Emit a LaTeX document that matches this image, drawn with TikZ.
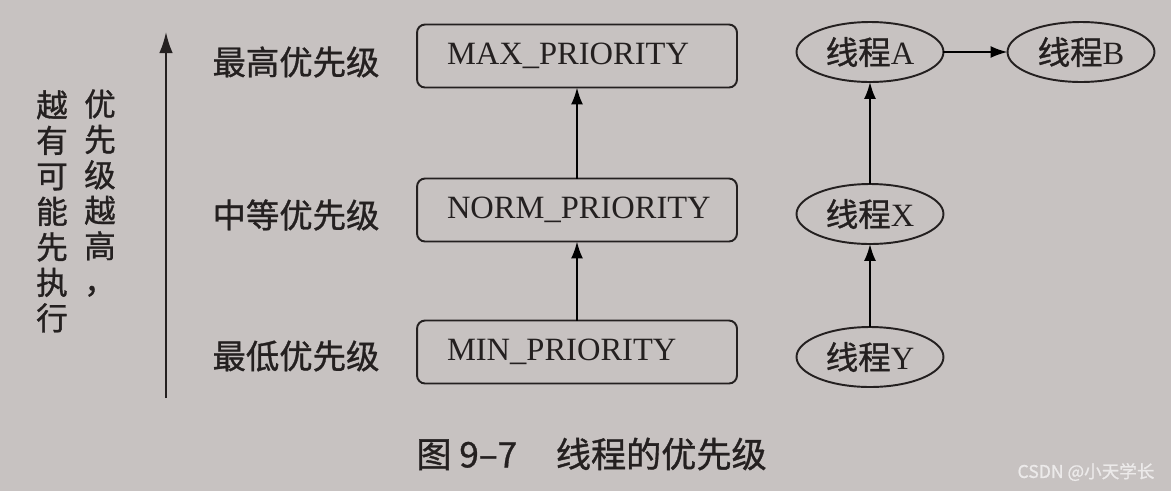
\documentclass[tikz,border=0pt]{standalone}
\usepackage{fontspec}
\setmainfont{Liberation Serif}
\newfontfamily\cjk{Noto Sans CJK SC}[FakeBold=1]
\usepackage{tkz-graph}
\usetikzlibrary{arrows.meta}
\usetikzlibrary{shapes}
\definecolor{paper}{RGB}{199,194,193}
\definecolor{ink}{RGB}{36,32,32}
\definecolor{markgray}{RGB}{236,234,234}

\begin{document}
\begin{tikzpicture}[x = 0.02cm, y = -0.02cm, color = ink]
	\tikzstyle{VertexStyle} = []
	\tikzstyle{EdgeStyle} = [draw, line width = 1.1pt, -{Latex[length = 0.34cm, width = 0.24cm]}]
	\tikzstyle{LabelStyle} = []
	\tikzstyle{levelStyle} = [shape = rectangle, rounded corners = 0.16cm, draw, line width = 1.1pt, minimum width = 6.4cm, minimum height = 1.26cm, text width = 5.2cm, inner xsep = 0.6cm, align = left, font = \rmfamily\fontsize{18.5pt}{18.5pt}\selectfont]
	\tikzstyle{threadStyle} = [shape = ellipse, draw, line width = 1.1pt, minimum width = 2.94cm, minimum height = 1.2cm, inner sep = 0pt, font = \rmfamily\fontsize{18.5pt}{18.5pt}\selectfont]
	\tikzstyle{nameStyle} = [inner sep = 0pt, font = \cjk\fontsize{19pt}{19pt}\selectfont]
	\tikzstyle{columnStyle} = [anchor = north, align = center, inner sep = 0pt, font = \cjk\fontsize{18pt}{20.2pt}\selectfont]
	\tikzstyle{captionStyle} = [anchor = west, inner sep = 0pt, font = \cjk\fontsize{20pt}{20pt}\selectfont]
	\tikzstyle{markStyle} = [inner sep = 0pt, text = markgray, font = \cjk\fontsize{10pt}{10pt}\selectfont]
	\fill[paper] (0,0) rectangle (1171,491);
	\useasboundingbox (0,0) rectangle (1171,491);
	% priority axis
	\coordinate (axisLow) at (166, 398);
	\coordinate (axisTop) at (166, 32);
	\draw[line width = 1.1pt, -{Latex[length = 0.42cm, width = 0.27cm]}] (axisLow) -- (axisTop);
	\node[columnStyle] (leftCol) at (52, 90) {越\\有\\可\\能\\先\\执\\行};
	\node[columnStyle] (rightCol) at (100, 89) {优\\先\\级\\越\\高\\，};
	\node[nameStyle] (maxName) at (296, 62) {最高优先级};
	\node[nameStyle] (normName) at (296, 215) {中等优先级};
	\node[nameStyle] (minName) at (296, 356) {最低优先级};
	% priority constants
	\Vertex[style = levelStyle, x = 577, y = 56, L = {MAX\_PRIORITY}]{max}
	\Vertex[style = levelStyle, x = 577, y = 210, L = {NORM\_PRIORITY}]{norm}
	\Vertex[style = levelStyle, x = 577, y = 352, L = {MIN\_PRIORITY}]{min}
	% threads
	\Vertex[style = threadStyle, x = 870, y = 52, L = {{\cjk 线程}A}]{thA}
	\Vertex[style = threadStyle, x = 1081, y = 52, L = {{\cjk 线程}B}]{thB}
	\Vertex[style = threadStyle, x = 870, y = 214, L = {{\cjk 线程}X}]{thX}
	\Vertex[style = threadStyle, x = 870, y = 357, L = {{\cjk 线程}Y}]{thY}
	\Edge(norm)(max)
	\Edge(min)(norm)
	\Edge(thX)(thA)
	\Edge(thY)(thX)
	\Edge(thA)(thB)
	\node[captionStyle] (caption) at (416, 454) {图 9–7\hspace{1.1em}线程的优先级};
	\node[markStyle] (mark) at (1086, 472) {CSDN @小天学长};
\end{tikzpicture}
\end{document}
